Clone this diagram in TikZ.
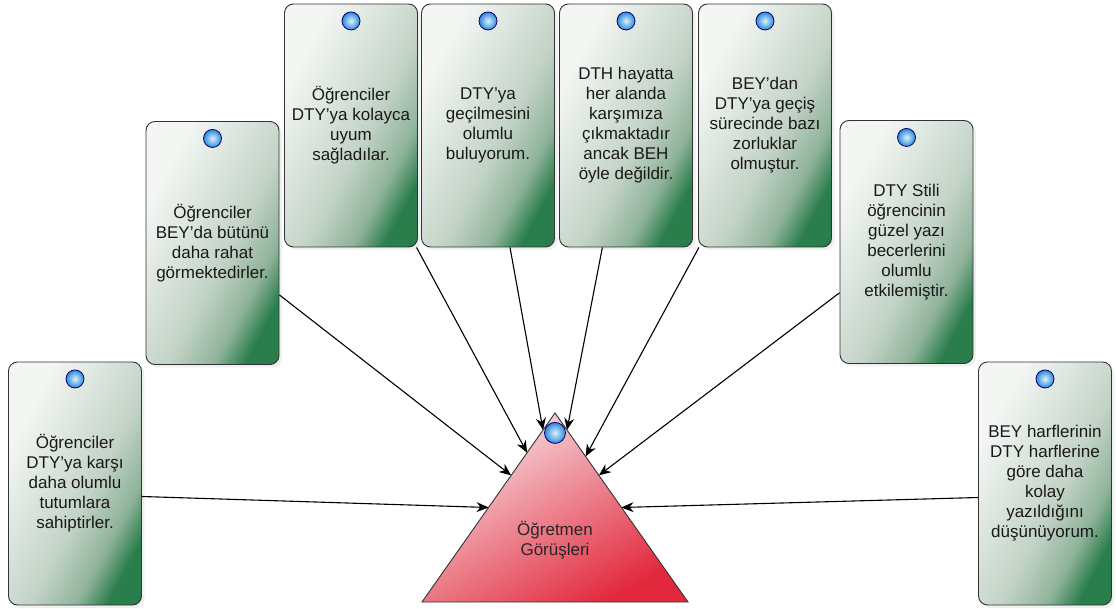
\documentclass[tikz,border=0pt]{standalone}
\usepackage{fontspec}
\setmainfont{Liberation Sans}
\usepackage{tikz}
\usetikzlibrary{arrows.meta,shapes,shadows,positioning,calc}
\definecolor{cardtop}{HTML}{F3F6F3}
\definecolor{cardmid}{HTML}{C3D3C7}
\definecolor{cardlow}{HTML}{8FB39A}
\definecolor{cardbot}{HTML}{2A7E4C}
\definecolor{tritop}{HTML}{F7E1E4}
\definecolor{trimid}{HTML}{ECA7AF}
\definecolor{tribot}{HTML}{E2283C}
\definecolor{dotin}{HTML}{D8F4FF}
\definecolor{dotout}{HTML}{2F86D8}
\pgfdeclareverticalshading{cardshade}{100bp}{color(0bp)=(cardbot); color(25bp)=(cardbot); color(33bp)=(cardlow); color(45bp)=(cardmid); color(72bp)=(cardtop); color(100bp)=(cardtop)}
\tikzstyle{card}=[draw=black!80, line width=0.9pt, rounded corners=9pt, minimum width=133pt, minimum height=243pt, inner sep=2pt, align=center, shading=cardshade, shading angle=62, text=black!90, font=\fontsize{17}{20}\selectfont, drop shadow={opacity=0.12, shadow xshift=3pt, shadow yshift=-3pt}]
\tikzstyle{dot}=[circle, minimum size=18pt, inner sep=0pt, inner color=dotin, outer color=dotout, draw=blue!45!black, line width=0.8pt]
\tikzstyle{link}=[line width=1.1pt, -{Stealth[length=12pt,width=10pt]}]
\tikzstyle{lab}=[align=center, text=black!85, font=\fontsize{17}{20}\selectfont]

\begin{document}
\begin{tikzpicture}[x=1pt, y=-1pt]
        \useasboundingbox (0,0) rectangle (1116,609);
        % triangle
        \coordinate (apex) at (555,413);
        \coordinate (bl) at (422,602);
        \coordinate (br) at (688,602);
        \shade [draw=black!80, line width=0.9pt, top color=tritop, middle color=trimid, bottom color=tribot, shading angle=30] (apex) -- (br) -- (bl) -- cycle;
        \node at (555,540) [lab] (ogr) {Öğretmen\\Görüşleri};
        \node [dot, minimum size=21pt, below=9pt of apex] (d0) {};
        % cards
        \node at (75,483.5) [card] (b1) {Öğrenciler\\DTY'ya karşı\\daha olumlu\\tutumlara\\sahiptirler.};
        \node at (212.5,243) [card] (b2) {Öğrenciler\\BEY'da bütünü\\daha rahat\\görmektedirler.};
        \node at (351,125.5) [card] (b3) {Öğrenciler\\DTY'ya kolayca\\uyum\\sağladılar.};
        \node at (488,125.5) [card] (b4) {DTY'ya\\geçilmesini\\olumlu\\buluyorum.};
        \node at (626,125.5) [card] (b5) {DTH hayatta\\her alanda\\karşımıza\\çıkmaktadır\\ancak BEH\\öyle değildir.};
        \node at (765,125.5) [card] (b6) {BEY'dan\\DTY'ya geçiş\\sürecinde bazı\\zorluklar\\olmuştur.};
        \node at (906.5,242) [card] (b7) {DTY Stili\\öğrencinin\\güzel yazı\\becerlerini\\olumlu\\etkilemiştir.};
        \node at (1045,483.5) [card] (b8) {BEY harflerinin\\DTY harflerine\\göre daha\\kolay\\yazıldığını\\düşünüyorum.};
        \foreach \n in {1,...,8}
          \node [dot, below=8pt of b\n.north] (d\n) {};
        % arrow ends on the triangle
        \coordinate (e1) at ($(apex)!0.50!(bl)$);
        \coordinate (e2) at ($(apex)!0.33!(bl)$);
        \coordinate (e3) at ($(apex)!0.21!(bl)$);
        \coordinate (e4) at ($(apex)!0.09!(bl)$);
        \coordinate (e5) at ($(apex)!0.09!(br)$);
        \coordinate (e6) at ($(apex)!0.23!(br)$);
        \coordinate (e7) at ($(apex)!0.33!(br)$);
        \coordinate (e8) at ($(apex)!0.50!(br)$);
        \draw [link] ([yshift=-13pt]b1.east) -- (e1);
        \draw [link] (b2) -- (e2);
        \draw [link] (b3) -- (e3);
        \draw [link] (b4) -- (e4);
        \draw [link] (b5) -- (e5);
        \draw [link] (b6) -- (e6);
        \draw [link] (b7) -- (e7);
        \draw [link] ([yshift=-14pt]b8.west) -- (e8);
      \end{tikzpicture}
\end{document}
